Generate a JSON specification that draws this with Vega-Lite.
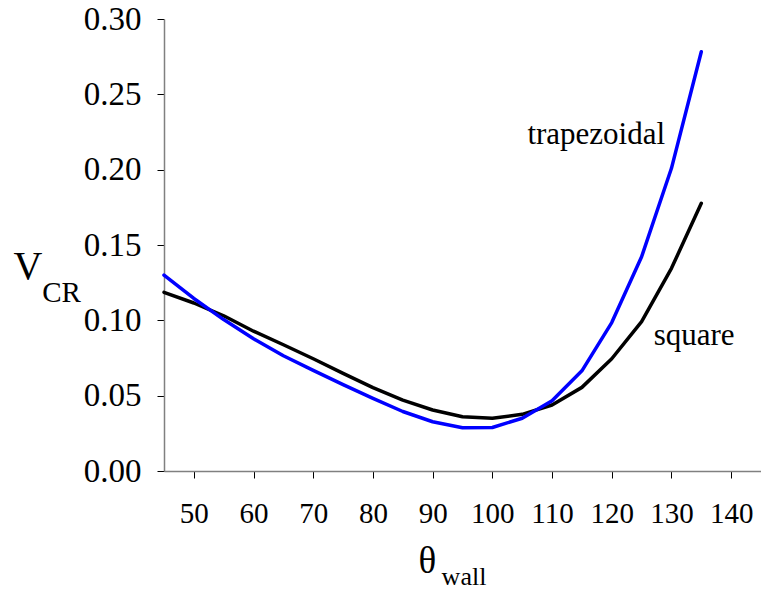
{
  "$schema": "https://vega.github.io/schema/vega-lite/v6.json",
  "autosize": "none",
  "padding": {"left": 164, "top": 19, "right": 0, "bottom": 119},
  "width": 597,
  "height": 452,
  "background": "white",
  "config": {
    "view": {"stroke": null},
    "font": "Liberation Serif",
    "axis": {
      "labelFont": "Liberation Serif",
      "titleFont": "Liberation Serif",
      "labelColor": "black",
      "titleColor": "black",
      "titleFontWeight": "normal",
      "grid": false,
      "domainColor": "#808080",
      "domainWidth": 1.5,
      "tickColor": "black",
      "tickWidth": 1,
      "tickSize": 7
    }
  },
  "data": {
    "values": [
      {"theta": 45, "V": 0.1186, "shape": "square"},
      {"theta": 50, "V": 0.1115, "shape": "square"},
      {"theta": 55, "V": 0.1030, "shape": "square"},
      {"theta": 60, "V": 0.0928, "shape": "square"},
      {"theta": 65, "V": 0.0838, "shape": "square"},
      {"theta": 70, "V": 0.0745, "shape": "square"},
      {"theta": 75, "V": 0.0648, "shape": "square"},
      {"theta": 80, "V": 0.0553, "shape": "square"},
      {"theta": 85, "V": 0.0470, "shape": "square"},
      {"theta": 90, "V": 0.0405, "shape": "square"},
      {"theta": 95, "V": 0.0360, "shape": "square"},
      {"theta": 100, "V": 0.0350, "shape": "square"},
      {"theta": 105, "V": 0.0376, "shape": "square"},
      {"theta": 110, "V": 0.0438, "shape": "square"},
      {"theta": 115, "V": 0.0555, "shape": "square"},
      {"theta": 120, "V": 0.0745, "shape": "square"},
      {"theta": 125, "V": 0.0991, "shape": "square"},
      {"theta": 130, "V": 0.1345, "shape": "square"},
      {"theta": 135, "V": 0.1777, "shape": "square"},
      {"theta": 45, "V": 0.1300, "shape": "trapezoidal"},
      {"theta": 50, "V": 0.1145, "shape": "trapezoidal"},
      {"theta": 55, "V": 0.1005, "shape": "trapezoidal"},
      {"theta": 60, "V": 0.0878, "shape": "trapezoidal"},
      {"theta": 65, "V": 0.0765, "shape": "trapezoidal"},
      {"theta": 70, "V": 0.0668, "shape": "trapezoidal"},
      {"theta": 75, "V": 0.0573, "shape": "trapezoidal"},
      {"theta": 80, "V": 0.0482, "shape": "trapezoidal"},
      {"theta": 85, "V": 0.0395, "shape": "trapezoidal"},
      {"theta": 90, "V": 0.0327, "shape": "trapezoidal"},
      {"theta": 95, "V": 0.0287, "shape": "trapezoidal"},
      {"theta": 100, "V": 0.0289, "shape": "trapezoidal"},
      {"theta": 105, "V": 0.0350, "shape": "trapezoidal"},
      {"theta": 110, "V": 0.0467, "shape": "trapezoidal"},
      {"theta": 115, "V": 0.0665, "shape": "trapezoidal"},
      {"theta": 120, "V": 0.0985, "shape": "trapezoidal"},
      {"theta": 125, "V": 0.1422, "shape": "trapezoidal"},
      {"theta": 130, "V": 0.2009, "shape": "trapezoidal"},
      {"theta": 135, "V": 0.2783, "shape": "trapezoidal"}
    ]
  },
  "layer": [
    {
      "mark": {"type": "line", "strokeWidth": 3.5, "strokeCap": "round", "strokeJoin": "round"},
      "encoding": {
        "x": {
          "field": "theta", "type": "quantitative",
          "scale": {"domain": [45, 145], "nice": false, "zero": false},
          "axis": {
            "values": [50, 60, 70, 80, 90, 100, 110, 120, 130, 140],
            "labelFontSize": 29,
            "labelPadding": 21,
            "labelBaseline": "top",
            "title": "θ",
            "titleFontSize": 37,
            "titleAlign": "left",
            "titleBaseline": "alphabetic",
            "titleX": 254,
            "titleY": 101,
            "encode": {"ticks": {"y": {"value": -7}}}
          }
        },
        "y": {
          "field": "V", "type": "quantitative",
          "scale": {"domain": [0, 0.3], "nice": false},
          "axis": {
            "values": [0, 0.05, 0.1, 0.15, 0.2, 0.25, 0.3],
            "format": ".2f",
            "labelFontSize": 33,
            "labelPadding": 16,
            "title": "V",
            "titleAngle": 0,
            "titleFontSize": 40,
            "titleAlign": "left",
            "titleBaseline": "alphabetic",
            "titleX": -151,
            "titleY": 259,
            "encode": {"ticks": {"x": {"value": 7}}}
          }
        },
        "color": {
          "field": "shape", "type": "nominal",
          "scale": {"domain": ["square", "trapezoidal"], "range": ["#000000", "#0000FF"]},
          "legend": null
        }
      }
    },
    {
      "data": {"values": [{}]},
      "mark": {"type": "text", "text": "trapezoidal", "fontSize": 31, "align": "center", "baseline": "alphabetic", "font": "Liberation Serif", "color": "black"},
      "encoding": {"x": {"datum": 117.4, "type": "quantitative"}, "y": {"datum": 0.217, "type": "quantitative"}}
    },
    {
      "data": {"values": [{}]},
      "mark": {"type": "text", "text": "square", "fontSize": 31, "align": "center", "baseline": "alphabetic", "font": "Liberation Serif", "color": "black"},
      "encoding": {"x": {"datum": 133.8, "type": "quantitative"}, "y": {"datum": 0.0836, "type": "quantitative"}}
    },
    {
      "data": {"values": [{}]},
      "mark": {"type": "text", "text": "CR", "fontSize": 29, "align": "left", "baseline": "alphabetic", "font": "Liberation Serif", "color": "black"},
      "encoding": {"x": {"datum": 24.6, "type": "quantitative"}, "y": {"datum": 0.1122, "type": "quantitative"}}
    },
    {
      "data": {"values": [{}]},
      "mark": {"type": "text", "text": "wall", "fontSize": 26, "align": "left", "baseline": "alphabetic", "font": "Liberation Serif", "color": "black"},
      "encoding": {"x": {"datum": 91.5, "type": "quantitative"}, "y": {"datum": -0.0757, "type": "quantitative"}}
    }
  ]
}
